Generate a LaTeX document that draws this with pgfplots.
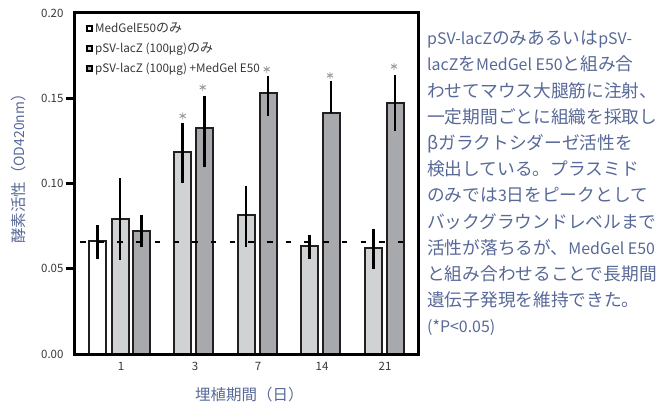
\documentclass[border=0pt]{standalone}
\usepackage{fontspec}
\usepackage{pgfplots}
\usepackage{pgfplotstable}
\pgfplotsset{compat=1.18}
\setmainfont{Noto Sans CJK JP}
\newfontfamily\nar[Scale=0.9]{Noto Sans CJK JP}
\definecolor{txtblue}{RGB}{88,105,152}
\definecolor{lg}{RGB}{209,210,212}
\definecolor{dg}{RGB}{167,169,172}
\definecolor{edge}{RGB}{35,31,32}
\definecolor{ticktxt}{RGB}{55,55,55}

\pgfplotstableread{
x y ep em
97.7 0.0661 0.0093 0.0105
}\whitedata
\pgfplotstableread{
x y ep em
120.2 0.0793 0.0239 0.0243
182.5 0.1185 0.0171 0.0184
246.0 0.0816 0.0171 0.0189
309.7 0.0633 0.0063 0.0077
373.3 0.0622 0.0113 0.0126
}\lightdata
\pgfplotstableread{
x y ep em
141.5 0.0721 0.0095 0.0094
204.7 0.1324 0.0192 0.0230
268.0 0.1528 0.0101 0.0133
331.2 0.1411 0.0188 0.0000
395.0 0.1473 0.0165 0.0165
}\darkdata
\pgfplotstableread{
x y
182.7 0.1397
202.7 0.1564
266.7 0.1670
330.0 0.1634
394.0 0.1687
}\stardata

\begin{document}
\begin{tikzpicture}
\useasboundingbox (0,0) rectangle (661pt,-403pt);
\begin{axis}[
  at={(74pt,-354pt)}, anchor=south west,
  scale only axis, width=344pt, height=341pt,
  xmin=74, xmax=418, ymin=0, ymax=0.2,
  axis on top,
  axis line style={line width=3pt, black},
  xtick=\empty,
  extra x ticks={121,195,258,322,385},
  extra x tick labels={1,3,7,14,21},
  extra x tick style={major tick length=0pt, xticklabel style={font=\fontsize{11.5}{11.5}\selectfont, text=ticktxt, yshift=-5pt}},
  ytick pos=left,
  ytick={0.05,0.1,0.15},
  yticklabels={0.05,0.10,0.15},
  extra y ticks={0,0.2},
  extra y tick labels={0.00,0.20},
  extra y tick style={major tick length=0pt, yticklabel style={xshift=-7pt}},
  tick align=outside, major tick length=7pt,
  y tick style={line width=3pt, black},
  yticklabel style={font=\fontsize{11.5}{11.5}\selectfont, text=ticktxt},
  xlabel={埋植期間（日）},
  xlabel style={at={(axis description cs:0.51,-0.12)}, anchor=center, font=\fontsize{15.5}{15.5}\selectfont, text=txtblue},
  ylabel={酵素活性（{\nar OD420nm}）},
  ylabel style={at={(axis description cs:-0.16,0.554)}, anchor=center, font=\fontsize{15.5}{15.5}\selectfont, text=txtblue},
  legend style={draw=none, fill=none, at={(0.035,0.978)}, anchor=north west,
    inner sep=0pt, row sep=5pt, cells={anchor=west},
    font=\fontsize{13}{13}\selectfont, text=ticktxt},
  legend image code/.code={\draw[#1, line width=2pt, draw=black] (0pt,-2.5pt) rectangle (5pt,2.5pt);},
]
\addplot[ybar, bar shift=0pt, bar width=17pt, fill=white, draw=edge, line width=2pt,
  error bars/.cd, y dir=both, y explicit, error mark=none,
  error bar style={line width=2.5pt, black}]
  table[x=x, y=y, y error plus=ep, y error minus=em] {\whitedata};
\addlegendentry{{\nar MedGelE50}のみ}
\addplot[ybar, bar shift=0pt, bar width=17pt, fill=lg, draw=edge, line width=2pt,
  error bars/.cd, y dir=both, y explicit, error mark=none,
  error bar style={line width=2.5pt, black}]
  table[x=x, y=y, y error plus=ep, y error minus=em] {\lightdata};
\addlegendentry{{\nar pSV-lacZ (100μg)}のみ}
\addplot[ybar, bar shift=0pt, bar width=17pt, fill=dg, draw=edge, line width=2pt,
  error bars/.cd, y dir=both, y explicit, error mark=none,
  error bar style={line width=2.5pt, black}]
  table[x=x, y=y, y error plus=ep, y error minus=em] {\darkdata};
\addlegendentry{{\nar pSV-lacZ (100μg) +MedGel E50}}
\addplot[forget plot, black, line width=2.5pt, dash pattern=on 5.5pt off 13.2pt, dash phase=12.7pt]
  coordinates {(74,0.0657) (418,0.0657)};
\addplot[forget plot, only marks, mark=asterisk, mark size=3.5pt, color=black!40, line width=0.9pt]
  table[x=x, y=y] {\stardata};
\end{axis}
\node[anchor=north west, inner sep=0pt, align=left, text=txtblue,
  font=\fontsize{17.7}{26.2}\selectfont] at (427pt,-30.4pt) {%
{\nar pSV-lacZ}のみあるいは{\nar pSV-}\\
{\nar lacZ}を{\nar MedGel E50}と組み合\\
わせてマウス大腿筋に注射、\\
一定期間ごとに組織を採取し\\
βガラクトシダーゼ活性を\\
検出している。プラスミド\\
のみでは{\nar 3}日をピークとして\\
バックグラウンドレベルまで\\
活性が落ちるが、{\nar MedGel E50}\\
と組み合わせることで長期間\\
遺伝子発現を維持できた。\\
{\nar (*P<0.05)}};
\fill[black] (66pt,-270.25pt) rectangle (75pt,-267.25pt);
\fill[black] (66pt,-185pt) rectangle (75pt,-182pt);
\fill[black] (66pt,-99.75pt) rectangle (75pt,-96.75pt);
\end{tikzpicture}
\end{document}
